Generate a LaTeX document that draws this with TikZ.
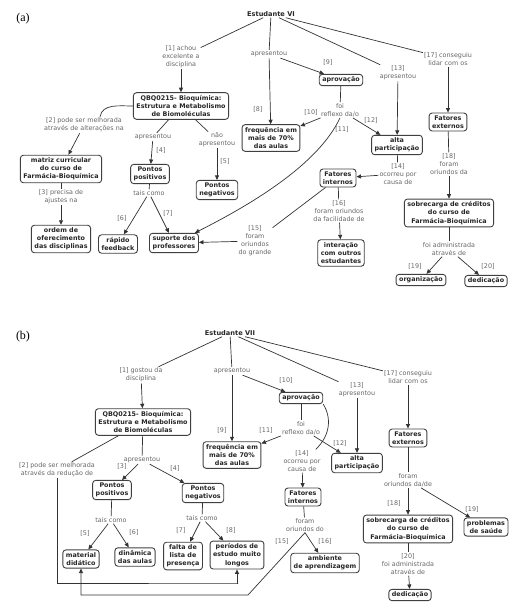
\documentclass[tikz,border=0pt]{standalone}
\usepackage{fontspec}
\setmainfont{DejaVu Sans}
\newfontfamily\panelfont{Liberation Serif}
\usetikzlibrary{arrows.meta,positioning}

\tikzset{
  concept/.style={draw=black!75, line width=0.9pt, rounded corners=3pt, align=center,
    inner xsep=3pt, inner ysep=2.5pt, font=\fontsize{6.4}{8.2}\selectfont\bfseries, text=black!85},
  root/.style={inner sep=1pt, font=\fontsize{6.6}{8}\selectfont\bfseries, text=black!85},
  linklab/.style={align=center, inner sep=1pt, font=\fontsize{6.4}{8}\selectfont, text=black!60},
  link/.style={draw=black!80, line width=0.7pt},
  arr/.style={link, -{Triangle[length=4.5pt,width=4pt]}},
  panel/.style={font=\panelfont\fontsize{12}{14}\selectfont}
}

\begin{document}
\begin{tikzpicture}[x=1pt,y=-1pt]
\useasboundingbox (0,0) rectangle (518,610);

% ---- (a) ----
\node[panel] (panA) at (23,19) {(a)};
\node[root] (estA) at (271,14) {Estudante VI};
\node[linklab] (l1a) at (181,57) {[1] achou\\excelente a\\disciplina};
\node[concept] (qbqA) at (181,106) {QBQ0215- Bioquímica:\\Estrutura e Metabolismo\\de Biomoléculas};
\node[linklab] (l2a) at (84,125) {[2] pode ser melhorada\\através de alterações na};
\node[concept] (matriz) at (61,169) {matriz curricular\\do curso de\\Farmácia-Bioquímica};
\node[linklab] (l3a) at (61,197) {[3] precisa de\\ajustes na};
\node[concept] (ordem) at (61,239) {ordem de\\oferecimento\\das disciplinas};
\node[linklab] (l4a) at (153,137) {apresentou};
\node[linklab] (n4a) at (161,150) {[4]};
\node[concept] (posA) at (150,174) {Pontos\\positivos};
\node[linklab] (l5a) at (217,140) {não\\apresentou};
\node[linklab] (n5a) at (225,161) {[5]};
\node[concept] (negA) at (217,190) {Pontos\\negativos};
\node[linklab] (l6a) at (149,193) {tais como};
\node[linklab] (n6a) at (122,218) {[6]};
\node[linklab] (n7a) at (168,213) {[7]};
\node[concept] (rapido) at (118,244) {rápido\\feedback};
\node[concept] (suporte) at (174,243) {suporte dos\\professores};
\node[linklab] (lapA) at (269,54) {apresentou};
\node[linklab] (n8a) at (258,109) {[8]};
\node[linklab] (n9a) at (328,62) {[9]};
\node[concept] (freqA) at (271,138) {frequência em\\mais de 70\%\\das aulas};
\node[concept] (aprovA) at (341,80) {aprovação};
\node[linklab] (lreflA) at (340,110) {foi\\reflexo da/o};
\node[linklab] (n10a) at (311,112) {[10]};
\node[linklab] (n11a) at (342,129) {[11]};
\node[linklab] (n12a) at (371,120) {[12]};
\node[linklab] (l13a) at (398,73) {[13]\\apresentou};
\node[concept] (altaA) at (397,145) {alta\\participação};
\node[linklab] (l14a) at (398,174) {[14]\\ocorreu por\\causa de};
\node[concept] (intA) at (338,178) {Fatores\\internos};
\node[linklab] (l16a) at (339,211) {[16]\\foram oriundos\\da facilidade de};
\node[concept] (interacao) at (341,253) {interação\\com outros\\estudantes};
\node[linklab] (l15a) at (255,241) {[15]\\foram\\oriundos\\do grande};
\node[linklab] (l17a) at (448,59) {[17] conseguiu\\lidar com os};
\node[concept] (extA) at (448,122) {Fatores\\externos};
\node[linklab] (l18a) at (449,164) {[18]\\foram\\oriundos da};
\node[concept] (sobreA) at (449,213) {sobrecarga de créditos\\do curso de\\Farmácia-Bioquímica};
\node[linklab] (ladmA) at (449,249) {foi administrada\\através de};
\node[linklab] (n19a) at (415,266) {[19]};
\node[linklab] (n20a) at (488,266) {[20]};
\node[concept] (organ) at (421,280) {organização};
\node[concept] (dedA) at (486,281) {dedicação};

\draw[link] (estA) -- (l1a);
\draw[arr] (l1a) -- (qbqA);
\draw[link] (qbqA.west) to[out=180,in=80] ([xshift=16pt]l2a.north);
\draw[arr] (l2a) -- (matriz);
\draw[link] (matriz) -- (l3a);
\draw[arr] (l3a) -- (ordem);
\draw[link] (qbqA) -- (l4a);
\draw[arr] (l4a) -- (posA);
\draw[link] (qbqA) -- (l5a);
\draw[arr] (l5a) -- (negA);
\draw[link] (posA) -- (l6a);
\draw[arr] (l6a) -- (rapido);
\draw[arr] (l6a) -- (suporte);
\draw[link] (estA) -- (lapA);
\draw[arr] (lapA) -- (freqA);
\draw[arr] (lapA) -- (aprovA);
\draw[link] (aprovA) -- (lreflA);
\draw[arr] (lreflA) -- (freqA);
\draw[arr] (lreflA) -- (altaA);
\draw[arr] (lreflA.south) .. controls (318,165) and (250,205) .. ([xshift=-4pt]suporte.north east);
\draw[link] (estA) -- (l13a);
\draw[arr] (l13a) -- (altaA);
\draw[link] (altaA) -- (l14a);
\draw[arr] (l14a) -- (intA);
\draw[link] (intA) -- (l16a);
\draw[arr] (l16a) -- (interacao);
\draw[link] (intA) -- (l15a);
\draw[arr] (l15a) -- (suporte);
\draw[link] (estA) -- (l17a);
\draw[arr] (l17a) -- (extA);
\draw[link] (extA) -- (l18a);
\draw[arr] (l18a) -- (sobreA);
\draw[link] (sobreA) -- (ladmA);
\draw[arr] (ladmA) -- (organ);
\draw[arr] (ladmA) -- (dedA);

% ---- (b) ----
\node[panel] (panB) at (23,337) {(b)};
\node[root] (estB) at (230,333) {Estudante VII};
\node[linklab] (l1b) at (141,375) {[1] gostou da\\disciplina};
\node[concept] (qbqB) at (143,422) {QBQ0215- Bioquímica:\\Estrutura e Metabolismo\\de Biomoléculas};
\node[linklab] (l2b) at (57,470) {[2] pode ser melhorada\\através da redução de};
\node[linklab] (lapQb) at (142,460) {apresentou};
\node[linklab] (n3b) at (122,466) {[3]};
\node[linklab] (n4b) at (175,468) {[4]};
\node[concept] (posB) at (112,490) {Pontos\\positivos};
\node[concept] (negB) at (203,493) {Pontos\\negativos};
\node[linklab] (l5b) at (111,520) {tais como};
\node[linklab] (n5b) at (85,533) {[5]};
\node[linklab] (n6b) at (134,532) {[6]};
\node[concept] (material) at (81,559) {material\\didático};
\node[concept] (dinamica) at (135,557) {dinâmica\\das aulas};
\node[linklab] (l7b) at (202,518) {tais como};
\node[linklab] (n7b) at (181,530) {[7]};
\node[linklab] (n8b) at (231,530) {[8]};
\node[concept] (falta) at (183,556) {falta de\\lista de\\presença};
\node[concept] (periodos) at (237,555) {períodos de\\estudo muito\\longos};
\node[linklab] (lapB) at (232,371) {apresentou};
\node[linklab] (n9b) at (222,430) {[9]};
\node[linklab] (n10b) at (286,380) {[10]};
\node[concept] (freqB) at (232,455) {frequência em\\mais de 70\%\\das aulas};
\node[concept] (aprovB) at (301,398) {aprovação};
\node[linklab] (lreflB) at (301,428) {foi\\reflexo da/o};
\node[linklab] (n11b) at (266,430) {[11]};
\node[linklab] (n12b) at (340,443) {[12]};
\node[concept] (altaB) at (357,463) {alta\\participação};
\node[linklab] (l14b) at (302,461) {[14]\\ocorreu por\\causa de};
\node[concept] (intB) at (303,497) {Fatores\\internos};
\node[linklab] (l15b) at (305,525) {foram\\oriundos do};
\node[linklab] (n15b) at (282,541) {[15]};
\node[linklab] (n16b) at (325,541) {[16]};
\node[concept] (ambiente) at (325,563) {ambiente\\de aprendizagem};
\node[linklab] (l13b) at (357,390) {[13]\\apresentou};
\node[linklab] (l17b) at (408,377) {[17] conseguiu\\lidar com os};
\node[concept] (extB) at (408,438) {Fatores\\externos};
\node[linklab] (l18b) at (408,480) {foram\\oriundos da/de};
\node[linklab] (n18b) at (394,503) {[18]};
\node[linklab] (n19b) at (472,509) {[19]};
\node[concept] (sobreB) at (408,529) {sobrecarga de créditos\\do curso de\\Farmácia-Bioquímica};
\node[concept] (problemas) at (486,527) {problemas\\de saúde};
\node[linklab] (l20b) at (408,564) {[20]\\foi administrada\\através de};
\node[concept] (dedB) at (410,595) {dedicação};
\coordinate (c2b) at (238,583);
\coordinate (c15b) at (248,595);

\draw[link] (estB) -- (l1b);
\draw[arr] (l1b) -- (qbqB);
\draw[link] (qbqB) -- (l2b);
\draw[arr] (l2b.south) |- (c2b) -| (periodos.south);
\draw[link] (qbqB) -- (lapQb);
\draw[arr] (lapQb) -- (posB);
\draw[arr] (lapQb) -- (negB);
\draw[link] (posB) -- (l5b);
\draw[arr] (l5b) -- (material);
\draw[arr] (l5b) -- (dinamica);
\draw[link] (negB) -- (l7b);
\draw[arr] (l7b) -- (falta);
\draw[arr] (l7b) -- (periodos);
\draw[link] (estB) -- (lapB);
\draw[arr] (lapB) -- (freqB);
\draw[arr] (lapB) -- (aprovB);
\draw[link] (aprovB) -- (lreflB);
\draw[arr] (lreflB) -- (freqB);
\draw[arr] (lreflB) -- (altaB);
\draw[link] (aprovB.south east) .. controls (332,418) and (330,436) .. ([xshift=-6pt]l14b.north east);
\draw[arr] (l14b) -- (intB);
\draw[link] (intB) -- (l15b);
\draw[arr] (l15b.south) -- (ambiente);
\draw[arr] (l15b.south) -- (c15b) -| (material.south);
\draw[link] (estB) -- (l13b);
\draw[arr] (l13b) -- (altaB);
\draw[link] (estB) -- (l17b);
\draw[arr] (l17b) -- (extB);
\draw[link] (extB) -- (l18b);
\draw[arr] (l18b) -- (sobreB);
\draw[arr] (l18b) -- (problemas);
\draw[link] (sobreB) -- (l20b);
\draw[arr] (l20b) -- (dedB);
\end{tikzpicture}
\end{document}
